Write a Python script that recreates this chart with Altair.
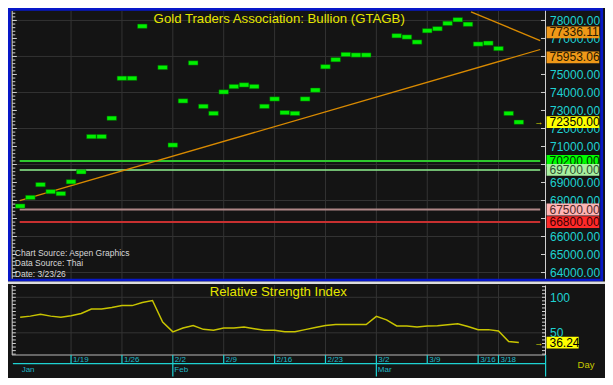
import altair as alt
import pandas as pd

# ---------------- data ----------------
# trading-day index (0 = Jan 12) and Thai gold bullion closes
price_idx = [0, 1, 2, 3, 4, 5, 6, 7, 8, 9, 10, 11, 12, 14, 15, 16, 17, 18, 19, 20,
             21, 22, 23, 24, 25, 26, 27, 28, 29, 30, 31, 32, 33, 34, 37, 38, 39, 40,
             41, 42, 43, 44, 45, 46, 47, 48, 49]
price_val = [67690, 68170, 68880, 68490, 68380, 69040, 69590, 71550, 71550, 72570,
             74790, 74790, 77680, 75390, 71080, 73530, 75640, 73230, 72840, 74030,
             74330, 74420, 74330, 73230, 73640, 72880, 72840, 73640, 74130, 75430,
             75820, 76110, 76080, 76080, 77150, 77080, 76800, 77430, 77540, 77840,
             78040, 77790, 76690, 76740, 76440, 72840, 72350]

rsi_idx = list(range(50))
rsi_val = [71.9, 73.5, 76.0, 73.5, 71.9, 74.0, 77.3, 83.6, 83.6, 85.5,
           88.3, 88.3, 92.8, 95.5, 65.0, 51.4, 56.8, 60.4, 54.9, 53.6,
           56.8, 56.8, 58.2, 55.9, 53.6, 53.6, 51.4, 51.4, 54.5, 57.5,
           60.4, 61.7, 61.7, 61.7, 61.7, 73.2, 68.2, 59.6, 59.6, 58.2,
           59.6, 60.0, 61.5, 62.7, 59.0, 54.5, 54.5, 52.7, 37.7, 36.24]

week_idx = [5, 10, 15, 20, 25, 30, 35, 40, 45, 47]
week_lbl = ["1/19", "1/26", "2/2", "2/9", "2/16", "2/23", "3/2", "3/9", "3/16", "3/18"]
month_idx = [0, 15, 35]
month_lbl = ["Jan", "Feb", "Mar"]

level_vals = [70200, 69700, 67500, 66800]
level_span = [-0.05, 51.1]
trend_up_i = [-0.05, 51.1]
trend_up_v = [67995, 76387]
trend_dn_i = [44.3, 51.1]
trend_dn_v = [78479, 76882]

box_vals = [77336.11, 75953.06, 72350.00, 70200.00, 69700.00, 67500.00, 66800.00]
last_price = 72350.00
last_rsi = 36.24

# axis labels that stay visible (the others are hidden under the value boxes)
price_ticks = [64000, 65000, 66000, 68000, 69000, 71000, 72000, 73000, 74000,
               75000, 77000, 78000]
price_major = list(range(64000, 78001, 1000))
price_grid = list(range(64000, 78001, 2000))
rsi_ticks = [50, 100]

# ---------------- style ----------------
W, H1, H2 = 537, 271, 70
XD = [-1.1958, 51.570]
YD = [63640, 78692]
RD = [18.8, 117.3]
FONT = "Liberation Sans"
CYAN = "#1ed2d2"
GRID = "#333333"
BG = "#141414"
ORANGE = "#d98a00"
YEL = "#d8d800"
WHITE = "#d0d0d0"
LEVEL_COLORS = ["#2ec82e", "#8ff08f", "#b08888", "#c83030"]
LEVEL_WIDTHS = [2, 1.5, 2, 2]
BOX_FILLS = ["#f09818", "#f09818", "#ffff00", "#00ff00", "#a8f0a0", "#ffb4b4", "#ff2a2a"]
BOX_TEXT = ["#2a1a00", "#2a1a00", "#000000", "#003000", "#305030", "#502828", "#400000"]

xs = alt.Scale(domain=XD, nice=False, zero=False)
ys = alt.Scale(domain=YD, nice=False, zero=False)
rs = alt.Scale(domain=RD, nice=False, zero=False)
X = alt.X("i:Q", scale=xs, axis=None)

axis_common = dict(orient="right", labelColor=CYAN, labelFont=FONT, labelFontSize=12,
                   labelPadding=4.5, ticks=False, tickSize=0, domain=True,
                   domainColor=WHITE, domainWidth=1, grid=False, title=None,
                   labelOverlap=False)
Y = alt.Y("v:Q", scale=ys, axis=alt.Axis(values=price_ticks, format=".2f", **axis_common))
R = alt.Y("r:Q", scale=rs, axis=alt.Axis(values=rsi_ticks, format="d", **axis_common))

one = pd.DataFrame({"i": [0]})

# ---------------- top panel ----------------
top_layers = []
top_layers.append(alt.Chart(pd.DataFrame({"v": price_grid})).mark_rule(color=GRID)
                  .encode(y=Y, x=alt.value(4), x2=alt.value(W)))
top_layers.append(alt.Chart(pd.DataFrame({"i": week_idx})).mark_rule(color=GRID)
                  .encode(x=X, y=alt.value(3), y2=alt.value(H1)))
for lv, c, w in zip(level_vals, LEVEL_COLORS, LEVEL_WIDTHS):
    top_layers.append(
        alt.Chart(pd.DataFrame({"i": [level_span[0]], "i2": [level_span[1]], "v": [lv]}))
        .mark_rule(color=c, strokeWidth=w)
        .encode(x=X, x2="i2:Q", y=Y))
top_layers.append(alt.Chart(pd.DataFrame({"i": trend_up_i, "v": trend_up_v}))
                  .mark_line(color=ORANGE, strokeWidth=1.3, clip=True).encode(x=X, y=Y))
top_layers.append(alt.Chart(pd.DataFrame({"i": trend_dn_i, "v": trend_dn_v}))
                  .mark_line(color=ORANGE, strokeWidth=1.3, clip=True).encode(x=X, y=Y))
top_layers.append(alt.Chart(pd.DataFrame({"i": price_idx, "v": price_val}))
                  .mark_tick(orient="horizontal", size=9.6, thickness=4.3, color="#00f000",
                             opacity=1, stroke="#006000", strokeWidth=0.5)
                  .encode(x=X, y=Y))
# left / right minor ticks
minor_top = list(range(63800, 78601, 200))
top_layers.append(alt.Chart(pd.DataFrame({"v": minor_top})).mark_rule(color=WHITE)
                  .encode(y=Y, x=alt.value(4.2), x2=alt.value(7.3)))
top_layers.append(alt.Chart(pd.DataFrame({"v": price_major})).mark_rule(color=WHITE)
                  .encode(y=Y, x=alt.value(4.2), x2=alt.value(8.8)))
top_layers.append(alt.Chart(one).mark_rule(color=WHITE)
                  .encode(x=alt.value(4.2), y=alt.value(3), y2=alt.value(H1)))
top_layers.append(alt.Chart(pd.DataFrame({"v": price_major})).mark_rule(color=WHITE)
                  .encode(y=Y, x=alt.value(W - 4), x2=alt.value(W)))
# frame and separator
top_layers.append(alt.Chart(one).mark_rect(fill="transparent", stroke="#0818c8", strokeWidth=2.8)
                  .encode(x=alt.value(1.4), x2=alt.value(593.7),
                          y=alt.value(1.4), y2=alt.value(H1 + 1.2)))
top_layers.append(alt.Chart(one).mark_rect(fill="#dcdcdc")
                  .encode(x=alt.value(0), x2=alt.value(597),
                          y=alt.value(H1 + 2.4), y2=alt.value(H1 + 5)))
# value boxes on the right axis
for bv, f, tc in zip(box_vals, BOX_FILLS, BOX_TEXT):
    d = pd.DataFrame({"v": [bv], "t": [f"{bv:.2f}"]})
    top_layers.append(alt.Chart(d).mark_tick(orient="horizontal", size=52.6, thickness=11.8,
                                             color=f, opacity=1)
                      .encode(x=alt.value(W + 27.9), y=Y))
    top_layers.append(alt.Chart(d).mark_text(align="left", baseline="middle", font=FONT,
                                             fontSize=12, color=tc)
                      .encode(x=alt.value(W + 4.5), y=Y, text="t:N"))
top_layers.append(alt.Chart(pd.DataFrame({"v": [last_price]}))
                  .mark_text(text="→", fontSize=9, color=YEL, align="center", baseline="middle")
                  .encode(x=alt.value(W - 6.2), y=Y))
# titles
top_layers.append(alt.Chart(one).mark_text(text="Gold Traders Association: Bullion (GTAGB)",
                                           font=FONT, fontSize=13.2, color="#e6e600",
                                           align="center", baseline="middle")
                  .encode(x=alt.value(271.2), y=alt.value(10.5)))
for txt, yy in zip(["Chart Source: Aspen Graphics", "Data Source: Thai", "Date: 3/23/26"],
                   [245.4, 255.4, 265.5]):
    top_layers.append(alt.Chart(one).mark_text(text=txt, font=FONT, fontSize=8.5,
                                               color="#d8d8d8", align="left", baseline="middle")
                      .encode(x=alt.value(6.8), y=alt.value(yy)))

top = alt.layer(*top_layers).properties(width=W, height=H1)

# ---------------- RSI panel ----------------
bl = []
bl.append(alt.Chart(pd.DataFrame({"r": rsi_ticks})).mark_rule(color=GRID)
          .encode(y=R, x=alt.value(4), x2=alt.value(W)))
bl.append(alt.Chart(pd.DataFrame({"i": week_idx})).mark_rule(color=GRID)
          .encode(x=X, y=alt.value(0), y2=alt.value(H2)))
bl.append(alt.Chart(pd.DataFrame({"i": rsi_idx, "r": rsi_val}))
          .mark_line(color="#c8c400", strokeWidth=1.5).encode(x=X, y=R))
minor_rsi = list(range(20, 116, 5))
bl.append(alt.Chart(pd.DataFrame({"r": minor_rsi})).mark_rule(color=WHITE)
          .encode(y=R, x=alt.value(4.2), x2=alt.value(7.8)))
bl.append(alt.Chart(pd.DataFrame({"r": minor_rsi})).mark_rule(color=WHITE)
          .encode(y=R, x=alt.value(W - 3), x2=alt.value(W)))
bl.append(alt.Chart(one).mark_rule(color=WHITE)
          .encode(x=alt.value(4.2), y=alt.value(0), y2=alt.value(H2)))
bl.append(alt.Chart(one).mark_rule(color="#b8b8b8")
          .encode(x=alt.value(4), x2=alt.value(W), y=alt.value(H2)))
d_last = pd.DataFrame({"r": [last_rsi], "t": [f"{last_rsi:.2f}"]})
bl.append(alt.Chart(d_last).mark_tick(orient="horizontal", size=32.1, thickness=11.8,
                                      color="#ffff00", opacity=1)
          .encode(x=alt.value(W + 17.6), y=R))
bl.append(alt.Chart(d_last).mark_text(align="left", baseline="middle", font=FONT,
                                      fontSize=12, color="#000000")
          .encode(x=alt.value(W + 4.5), y=R, text="t:N"))
bl.append(alt.Chart(d_last).mark_text(text="→", fontSize=9, color=YEL, align="center",
                                      baseline="middle")
          .encode(x=alt.value(W - 6.2), y=R))
bl.append(alt.Chart(one).mark_text(text="Relative Strength Index", font=FONT, fontSize=13.2,
                                   color="#e6e600", align="center", baseline="middle")
          .encode(x=alt.value(270.3), y=alt.value(6.7)))
# date axis
wk = pd.DataFrame({"i": week_idx, "t": week_lbl})
bl.append(alt.Chart(wk).mark_rule(color=CYAN, strokeWidth=1.2)
          .encode(x=X, y=alt.value(H2), y2=alt.value(H2 + 8.7)))
bl.append(alt.Chart(wk).mark_text(align="left", baseline="middle", font=FONT, fontSize=8,
                                  color="#20b8c8", dx=2)
          .encode(x=X, y=alt.value(H2 + 5.2), text="t:N"))
bl.append(alt.Chart(one).mark_rule(color=CYAN, strokeWidth=1.2)
          .encode(x=alt.value(4.9), x2=alt.value(W + 0.6), y=alt.value(H2 + 8.7)))
bl.append(alt.Chart(one).mark_rule(color=CYAN, strokeWidth=1.2)
          .encode(x=alt.value(W + 0.6), y=alt.value(H2), y2=alt.value(H2 + 21.5)))
mo = pd.DataFrame({"i": month_idx, "t": month_lbl})
bl.append(alt.Chart(mo.iloc[1:]).mark_rule(color=CYAN, strokeWidth=1.2)
          .encode(x=X, y=alt.value(H2 + 8.7), y2=alt.value(H2 + 21.5)))
bl.append(alt.Chart(mo).mark_text(align="left", baseline="middle", font=FONT, fontSize=8,
                                  color="#20b8c8", dx=1.5)
          .encode(x=X, y=alt.value(H2 + 14.5), text="t:N"))
bl.append(alt.Chart(one).mark_text(text="Day", font=FONT, fontSize=9.5, color="#c8c800",
                                   align="center", baseline="middle")
          .encode(x=alt.value(W + 41), y=alt.value(H2 + 10)))

bottom = alt.layer(*bl).properties(width=W, height=H2)

chart = (alt.vconcat(top, bottom, spacing=6, bounds="flush")
         .properties(background=BG, padding=0)
         .configure_view(strokeWidth=0))

chart.save("out.html", embed_options={"renderer": "svg", "actions": False})
